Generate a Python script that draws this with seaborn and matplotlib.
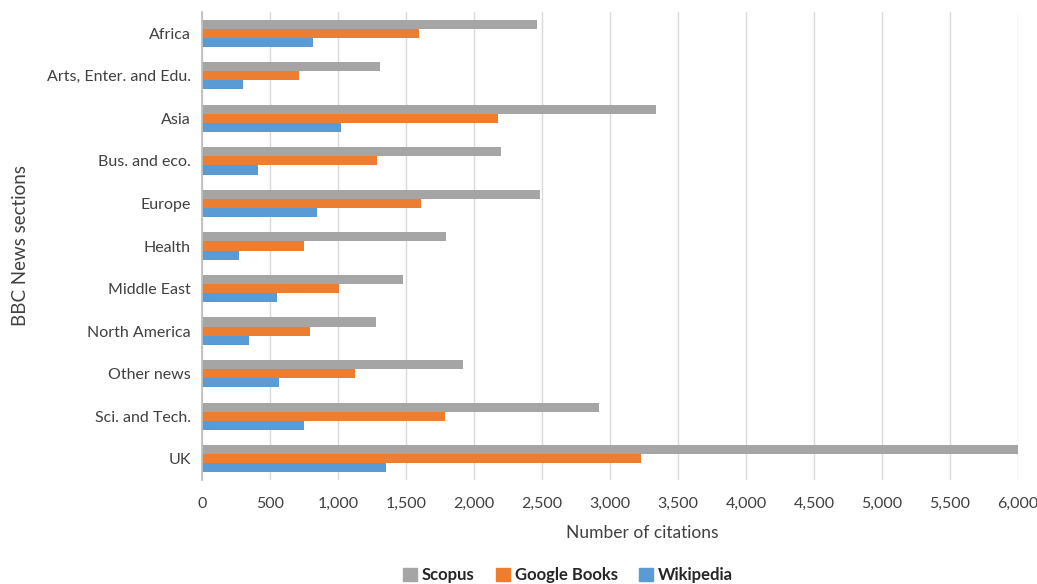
import matplotlib
matplotlib.use("Agg")
import matplotlib.pyplot as plt
import matplotlib.ticker as mticker
import seaborn as sns
import pandas as pd

sections = ["Africa", "Arts, Enter. and Edu.", "Asia", "Bus. and eco.", "Europe", "Health",
            "Middle East", "North America", "Other news", "Sci. and Tech.", "UK"]
scopus = [2463, 1310, 3340, 2198, 2483, 1795, 1478, 1281, 1922, 2920, 6010]
google_books = [1598, 713, 2175, 1288, 1610, 747, 1008, 796, 1128, 1787, 3230]
wikipedia = [816, 298, 1022, 410, 846, 275, 551, 347, 563, 747, 1352]
series_names = ["Scopus", "Google Books", "Wikipedia"]
colors = ["#A5A5A5", "#ED7D31", "#5B9BD5"]

rows = []
for name, vals in zip(series_names, [scopus, google_books, wikipedia]):
    for s, v in zip(sections, vals):
        rows.append({"section": s, "source": name, "citations": v})
df = pd.DataFrame(rows)

sns.set_theme(style="white")
plt.rcParams["font.family"] = ["Lato", "DejaVu Sans"]

fig = plt.figure(figsize=(10.37, 5.84), dpi=100)
ax = fig.add_axes([202/1037, 1-480/584, (1018-202)/1037, (480-12)/584])

sns.barplot(data=df, y="section", x="citations", hue="source", order=sections,
            hue_order=series_names, palette=colors, orient="h", width=0.64, gap=0,
            saturation=1, linewidth=0, ax=ax, legend=True)

ax.set_xlim(0, 6000)
ax.set_ylim(10.5, -0.5)
ax.xaxis.set_major_locator(mticker.MultipleLocator(500))
ax.xaxis.set_major_formatter(mticker.FuncFormatter(lambda v, p: f"{int(v):,}"))
ax.grid(axis="x", color="#D9D9D9", linewidth=1)
ax.set_axisbelow(True)
for sp in ["top", "right", "bottom"]:
    ax.spines[sp].set_visible(False)
ax.spines["left"].set_color("#BFBFBF")
ax.tick_params(axis="both", length=0, labelsize=11.5, colors="#404040", pad=8)
ax.tick_params(axis="x", pad=12)

ax.set_xlabel("Number of citations", fontsize=12.5, color="#404040")
ax.set_ylabel("BBC News sections", fontsize=13.5, color="#404040")
ax.xaxis.set_label_coords(0.54, -0.097)
ax.yaxis.set_label_coords(-0.212, 0.5)

ax.legend_.remove()
handles = [plt.Rectangle((0, 0), 1, 1, color=c) for c in colors]
leg = fig.legend(handles, series_names, loc="center", bbox_to_anchor=(568/1037, 1-575/584),
                 ncol=3, frameon=False, prop={"weight": "bold", "size": 12},
                 handlelength=0.8, handleheight=0.8, handletextpad=0.3, columnspacing=1.3)
for t in leg.get_texts():
    t.set_color("#262626")

fig.savefig("out.png", dpi=100)
